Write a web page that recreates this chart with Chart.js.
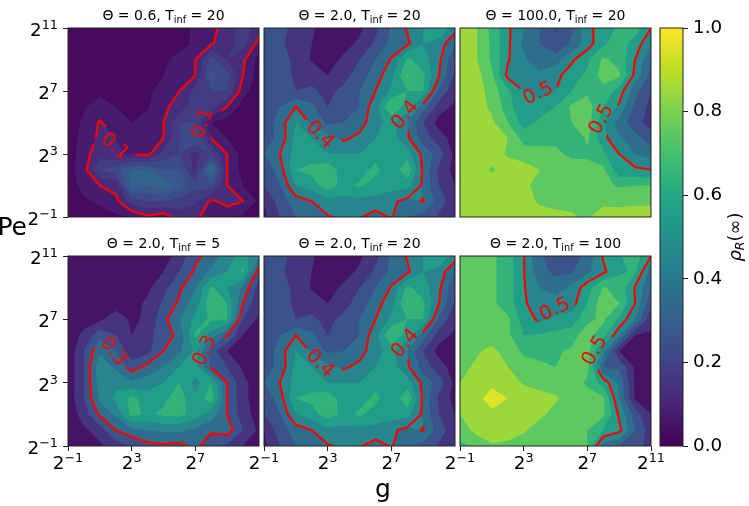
<!DOCTYPE html>
<html>
<head>
<meta charset="utf-8">
<style>
  html, body { margin: 0; padding: 0; background: #fff; }
  #wrap { position: relative; width: 749px; height: 506px; overflow: hidden; }
  canvas { position: absolute; left: 0; top: 0; }
</style>
<script src="https://cdn.jsdelivr.net/npm/chart.js@4"></script>
</head>
<body>
<div id="wrap"></div>
<script>
const exponents = [-1, 0, 1, 2, 3, 4, 5, 6, 7, 8, 9, 10, 11];
const xTicksShort = [-1, 3, 7];
const xTicksFull = [-1, 3, 7, 11];
const yTicks = [-1, 3, 7, 11];
const colorbarTicks = [0, 0.2, 0.4, 0.6, 0.8, 1];
const levelsFine = [0, 0.05, 0.1, 0.15, 0.2, 0.25, 0.3, 0.35, 0.4, 0.45];
const levelsCoarse = [0, 0.1, 0.2, 0.3, 0.4, 0.5, 0.6, 0.7, 0.8, 0.9, 1];
const viridis = ['#440154', '#482475', '#414487', '#355f8d', '#2a788e', '#21918c', '#22a884', '#44bf70', '#7ad151', '#bddf26', '#fde725'];

// rows run from Pe = 2^11 (top) down to Pe = 2^-1, columns from g = 2^-1 to 2^11
const rhoTheta06 = [
  [.02,.02,.02,.02,.02,.02,.02,.03,.06,.08,.13,.17,.13],
  [.02,.02,.02,.02,.02,.02,.02,.03,.06,.095,.13,.17,.08],
  [.02,.02,.02,.02,.02,.02,.04,.07,.1,.22,.15,.11,.03],
  [.02,.02,.02,.02,.02,.02,.05,.09,.1,.26,.22,.1,.03],
  [.02,.02,.04,.02,.03,.04,.07,.1,.17,.2,.2,.07,.02],
  [.03,.045,.07,.05,.03,.045,.09,.12,.18,.17,.1,.03,.02],
  [.02,.06,.105,.07,.05,.07,.1,.2,.2,.05,.03,.02,.02],
  [.02,.07,.11,.1,.08,.08,.1,.2,.25,.1,.05,.02,.02],
  [.02,.08,.13,.105,.095,.085,.17,.2,.13,.2,.1,.03,.02],
  [.03,.08,.2,.22,.3,.3,.25,.25,.13,.37,.1,.03,.02],
  [.02,.07,.1,.12,.33,.3,.33,.28,.22,.22,.1,.05,.03],
  [.02,.04,.06,.085,.17,.2,.2,.18,.16,.09,.12,.1,.04],
  [.02,.02,.03,.04,.06,.09,.07,.12,.12,.05,.06,.04,.02]
];
const rhoTheta2 = [
  [.25,.22,.18,.11,.06,.06,.08,.17,.31,.41,.5,.58,.45],
  [.27,.22,.15,.1,.05,.06,.12,.22,.33,.38,.5,.46,.3],
  [.3,.25,.17,.09,.06,.12,.2,.3,.41,.62,.55,.42,.22],
  [.3,.28,.17,.16,.1,.16,.25,.35,.47,.705,.62,.4,.18],
  [.22,.22,.2,.22,.17,.23,.3,.4,.52,.6,.6,.28,.13],
  [.25,.3,.4,.32,.2,.25,.3,.47,.7,.55,.35,.15,.08],
  [.22,.35,.5,.38,.28,.3,.35,.47,.53,.4,.2,.06,.05],
  [.25,.33,.53,.5,.43,.38,.43,.5,.55,.42,.25,.15,.05],
  [.3,.4,.55,.55,.5,.5,.5,.56,.52,.55,.37,.25,.07],
  [.22,.35,.6,.63,.67,.55,.55,.63,.52,.68,.38,.18,.06],
  [.2,.3,.5,.55,.66,.56,.62,.55,.55,.53,.38,.2,.1],
  [.1,.25,.35,.4,.47,.47,.47,.47,.42,.37,.405,.25,.14],
  [.08,.2,.3,.36,.39,.42,.41,.35,.41,.3,.27,.18,.1]
];
const rhoTheta100 = [
  [.87,.81,.67,.52,.4,.3,.19,.28,.47,.55,.62,.65,.5],
  [.87,.81,.68,.52,.38,.3,.22,.32,.45,.58,.66,.55,.42],
  [.87,.81,.68,.51,.42,.32,.35,.48,.58,.72,.66,.5,.3],
  [.87,.84,.72,.47,.42,.44,.47,.55,.62,.74,.72,.47,.27],
  [.87,.85,.76,.62,.5,.46,.5,.6,.68,.67,.56,.33,.2],
  [.87,.85,.78,.65,.5,.55,.6,.72,.75,.6,.48,.28,.17],
  [.87,.86,.82,.7,.56,.62,.67,.7,.75,.52,.35,.25,.15],
  [.87,.87,.86,.8,.66,.66,.68,.6,.72,.53,.42,.33,.25],
  [.87,.87,.87,.78,.75,.74,.72,.68,.68,.62,.5,.4,.35],
  [.87,.87,.78,.87,.85,.8,.78,.75,.74,.72,.53,.52,.5],
  [.87,.87,.87,.86,.82,.77,.77,.77,.76,.72,.69,.7,.7],
  [.87,.87,.87,.87,.83,.79,.78,.78,.78,.78,.77,.78,.78],
  [.87,.87,.87,.86,.85,.83,.82,.81,.79,.84,.85,.85,.85]
];
const rhoTinf5 = [
  [.03,.03,.03,.03,.03,.03,.05,.15,.27,.35,.45,.55,.4],
  [.03,.03,.03,.03,.03,.05,.1,.2,.32,.42,.5,.62,.25],
  [.03,.03,.03,.03,.05,.08,.17,.28,.4,.62,.5,.38,.15],
  [.03,.03,.03,.04,.06,.12,.22,.32,.45,.67,.6,.3,.12],
  [.03,.05,.08,.17,.08,.12,.27,.4,.53,.62,.6,.2,.08],
  [.03,.13,.27,.2,.1,.17,.25,.33,.62,.45,.3,.1,.04],
  [.03,.2,.38,.3,.13,.17,.3,.38,.52,.25,.1,.05,.03],
  [.03,.2,.47,.38,.25,.33,.4,.5,.55,.28,.2,.08,.03],
  [.03,.2,.45,.48,.42,.45,.5,.6,.47,.6,.3,.13,.04],
  [.04,.2,.42,.52,.63,.55,.58,.65,.52,.66,.3,.13,.04],
  [.03,.15,.32,.42,.63,.58,.62,.63,.55,.45,.3,.15,.05],
  [.03,.08,.15,.3,.37,.4,.42,.42,.38,.32,.35,.2,.08],
  [.02,.04,.08,.15,.2,.27,.28,.27,.33,.22,.18,.1,.05]
];
const rhoTinf100 = [
  [.75,.75,.72,.65,.505,.31,.26,.25,.33,.51,.59,.65,.5],
  [.75,.75,.72,.65,.505,.33,.28,.29,.38,.48,.58,.62,.35],
  [.75,.75,.72,.65,.51,.4,.35,.42,.56,.71,.66,.49,.3],
  [.75,.75,.72,.65,.52,.42,.45,.46,.6,.77,.7,.5,.22],
  [.75,.75,.73,.72,.55,.48,.52,.53,.68,.72,.58,.4,.13],
  [.77,.77,.76,.72,.6,.61,.63,.67,.74,.64,.42,.1,.09],
  [.77,.79,.82,.77,.68,.67,.69,.71,.75,.45,.1,.07,.06],
  [.78,.81,.85,.8,.74,.72,.7,.72,.74,.3,.28,.08,.05],
  [.8,.85,.88,.85,.79,.77,.76,.76,.68,.56,.38,.08,.05],
  [.8,.87,.94,.9,.86,.83,.81,.77,.75,.72,.4,.09,.07],
  [.8,.86,.88,.87,.85,.82,.77,.75,.74,.72,.48,.25,.1],
  [.74,.83,.85,.84,.81,.76,.76,.76,.7,.6,.53,.3,.15],
  [.68,.72,.79,.78,.76,.75,.75,.74,.7,.35,.3,.25,.15]
];

const frames = [
  { title: ['0.6', '20'], rho: rhoTheta06, levels: levelsFine, line: 0.1, text: '0.1', box: [68, 28, 259, 217], labels: [[1.95, 3.46, 42], [7.5, 4.94, -70]], xTicks: null, yTicks: yTicks },
  { title: ['2.0', '20'], rho: rhoTheta2, levels: levelsCoarse, line: 0.4, text: '0.4', box: [264, 28, 455, 217], labels: [[2.5, 4.2, 45], [7.88, 5.46, -50]], xTicks: null, yTicks: null },
  { title: ['100.0', '20'], rho: rhoTheta100, levels: levelsCoarse, line: 0.5, text: '0.5', box: [460, 28, 651, 217], labels: [[3.92, 6.83, -25], [7.9, 5.2, -62]], xTicks: null, yTicks: null },
  { title: ['2.0', '5'], rho: rhoTinf5, levels: levelsCoarse, line: 0.3, text: '0.3', box: [68, 256, 259, 446], labels: [[1.85, 4.96, 52], [7.6, 5.02, -65]], xTicks: xTicksShort, yTicks: yTicks },
  { title: ['2.0', '20'], rho: rhoTheta2, levels: levelsCoarse, line: 0.4, text: '0.4', box: [264, 256, 455, 446], labels: [[2.5, 4.2, 45], [7.88, 5.46, -50]], xTicks: xTicksShort, yTicks: null },
  { title: ['2.0', '100'], rho: rhoTinf100, levels: levelsCoarse, line: 0.5, text: '0.5', box: [460, 256, 651, 446], labels: [[4.97, 7.6, -25], [7.48, 5.02, -60]], xTicks: xTicksFull, yTicks: null }
];

const FONT = '"DejaVu Sans"';
const W = 749, H = 506;

function viridisAt(t) {
  const p = Math.min(Math.max(t, 0), 1) * (viridis.length - 1);
  const i = Math.min(Math.floor(p), viridis.length - 2);
  const f = p - i;
  const a = parseInt(viridis[i].slice(1), 16), b = parseInt(viridis[i + 1].slice(1), 16);
  const mix = s => Math.round(((a >> s) & 255) * (1 - f) + ((b >> s) & 255) * f);
  return `rgb(${mix(16)},${mix(8)},${mix(0)})`;
}

// text made of runs, so that sub and superscripts sit on their own baseline
function drawRuns(ctx, runs, x, y, align) {
  let total = 0;
  runs.forEach(r => {
    ctx.font = `${r.italic ? 'italic ' : ''}${r.size}px ${FONT}`;
    r.w = ctx.measureText(r.t).width;
    total += r.w;
  });
  let cx = align === 'center' ? x - total / 2 : align === 'right' ? x - total : x;
  ctx.textAlign = 'left';
  ctx.textBaseline = 'alphabetic';
  ctx.fillStyle = '#000';
  runs.forEach(r => {
    ctx.font = `${r.italic ? 'italic ' : ''}${r.size}px ${FONT}`;
    ctx.fillText(r.t, cx, y + (r.dy || 0));
    cx += r.w;
  });
}

function powerRuns(e) {
  return [{ t: '2', size: 18.3 }, { t: String(e).replace('-', '\u2212'), size: 12.8, dy: -7 }];
}

// polygon of one grid cell, cut to the part where v >= level
function clipCell(cell, level) {
  const out = [];
  for (let k = 0; k < cell.length; k++) {
    const a = cell[k], b = cell[(k + 1) % cell.length];
    if (a.v >= level) out.push(a);
    if ((a.v >= level) !== (b.v >= level)) {
      const f = (level - a.v) / (b.v - a.v);
      out.push({ x: a.x + (b.x - a.x) * f, y: a.y + (b.y - a.y) * f, v: level });
    }
  }
  return out;
}

function cellsOf(chart, rho) {
  const xs = exponents.map(e => chart.scales.x.getPixelForValue(e));
  const ys = exponents.map(e => chart.scales.y.getPixelForValue(e));
  const n = exponents.length - 1, cells = [];
  for (let j = 0; j < n; j++) {
    for (let i = 0; i < n; i++) {
      cells.push([
        { x: xs[i], y: ys[j], v: rho[n - j][i] },
        { x: xs[i + 1], y: ys[j], v: rho[n - j][i + 1] },
        { x: xs[i + 1], y: ys[j + 1], v: rho[n - j - 1][i + 1] },
        { x: xs[i], y: ys[j + 1], v: rho[n - j - 1][i] }
      ]);
    }
  }
  return cells;
}

const contourPlugin = {
  id: 'contour',
  beforeDatasetsDraw(chart) {
    const f = chart.options.plugins.contour.frame;
    if (!f) return;
    const ctx = chart.ctx, area = chart.chartArea;
    const cells = cellsOf(chart, f.rho);
    ctx.save();
    ctx.beginPath();
    ctx.rect(area.left, area.top, area.right - area.left, area.bottom - area.top);
    ctx.clip();
    // bands, low to high, each one painted over the one below
    f.levels.slice(0, -1).forEach((lo, k) => {
      ctx.fillStyle = viridisAt((lo + f.levels[k + 1]) / 2);
      ctx.beginPath();
      cells.forEach(c => {
        const p = clipCell(c, lo);
        if (p.length < 3) return;
        ctx.moveTo(p[0].x, p[0].y);
        for (let m = 1; m < p.length; m++) ctx.lineTo(p[m].x, p[m].y);
        ctx.closePath();
      });
      ctx.fill();
    });
    // red line, with a gap cut out where each label sits
    const marks = f.labels.map(l => ({
      x: chart.scales.x.getPixelForValue(l[0]),
      y: chart.scales.y.getPixelForValue(l[1]),
      a: l[2] * Math.PI / 180
    }));
    ctx.beginPath();
    ctx.rect(0, 0, W, H);
    marks.forEach(m => {
      const c = Math.cos(m.a), s = Math.sin(m.a), hw = 20, hh = 12;
      ctx.moveTo(m.x - hw * c + hh * s, m.y - hw * s - hh * c);
      ctx.lineTo(m.x + hw * c + hh * s, m.y + hw * s - hh * c);
      ctx.lineTo(m.x + hw * c - hh * s, m.y + hw * s + hh * c);
      ctx.lineTo(m.x - hw * c - hh * s, m.y - hw * s + hh * c);
      ctx.closePath();
    });
    ctx.save();
    ctx.clip('evenodd');
    ctx.strokeStyle = '#ff0000';
    ctx.lineWidth = 2.2;
    ctx.lineJoin = 'round';
    ctx.lineCap = 'round';
    ctx.beginPath();
    cells.forEach(c => {
      const hits = [];
      for (let k = 0; k < 4; k++) {
        const a = c[k], b = c[(k + 1) % 4];
        if ((a.v >= f.line) !== (b.v >= f.line)) {
          const t = (f.line - a.v) / (b.v - a.v);
          hits.push({ x: a.x + (b.x - a.x) * t, y: a.y + (b.y - a.y) * t });
        }
      }
      for (let k = 0; k + 1 < hits.length; k += 2) {
        ctx.moveTo(hits[k].x, hits[k].y);
        ctx.lineTo(hits[k + 1].x, hits[k + 1].y);
      }
    });
    ctx.stroke();
    ctx.restore();
    marks.forEach(m => {
      ctx.save();
      ctx.translate(m.x, m.y);
      ctx.rotate(m.a);
      ctx.font = `19.5px ${FONT}`;
      ctx.fillStyle = '#ff0000';
      ctx.textAlign = 'center';
      ctx.textBaseline = 'middle';
      ctx.fillText(f.text, 0, 0);
      ctx.restore();
    });
    ctx.restore();
  },
  afterDraw(chart) {
    const f = chart.options.plugins.contour.frame;
    if (!f) return;
    const ctx = chart.ctx, area = chart.chartArea;
    ctx.save();
    ctx.strokeStyle = '#222';
    ctx.lineWidth = 1;
    ctx.strokeRect(area.left, area.top, area.right - area.left, area.bottom - area.top);
    drawRuns(ctx, [
      { t: `\u0398 = ${f.title[0]}, T`, size: 14 },
      { t: 'inf', size: 9.8, dy: 3 },
      { t: ` = ${f.title[1]}`, size: 14 }
    ], (area.left + area.right) / 2, area.top - 8, 'center');
    if (f.xTicks) f.xTicks.forEach(e => {
      drawRuns(ctx, powerRuns(e), chart.scales.x.getPixelForValue(e), area.bottom + 23, 'center');
    });
    if (f.yTicks) f.yTicks.forEach(e => {
      drawRuns(ctx, powerRuns(e), area.left - 10, chart.scales.y.getPixelForValue(e) + 8, 'right');
    });
    ctx.restore();
  }
};

const colorbarPlugin = {
  id: 'colorbarFill',
  beforeDatasetsDraw(chart) {
    const ctx = chart.ctx, a = chart.chartArea, y = chart.scales.y;
    const g = ctx.createLinearGradient(0, y.getPixelForValue(0), 0, y.getPixelForValue(1));
    viridis.forEach((c, i) => g.addColorStop(i / (viridis.length - 1), c));
    ctx.fillStyle = g;
    ctx.fillRect(a.left, a.top, a.right - a.left, a.bottom - a.top);
  },
  afterDraw(chart) {
    const ctx = chart.ctx, a = chart.chartArea;
    ctx.save();
    ctx.strokeStyle = '#222';
    ctx.lineWidth = 1;
    ctx.strokeRect(a.left, a.top, a.right - a.left, a.bottom - a.top);
    ctx.translate(741, (a.top + a.bottom) / 2);
    ctx.rotate(-Math.PI / 2);
    drawRuns(ctx, [
      { t: '\u03c1', size: 18, italic: true },
      { t: 'R', size: 12.6, dy: 3, italic: true },
      { t: '(\u221e)', size: 18 }
    ], 0, 0, 'center');
    ctx.restore();
    drawRuns(ctx, [{ t: 'Pe', size: 25 }], 27, 235, 'right');
    drawRuns(ctx, [{ t: 'g', size: 25 }], 383, 497, 'center');
  }
};

function addCanvas() {
  const c = document.createElement('canvas');
  c.width = W;
  c.height = H;
  document.getElementById('wrap').appendChild(c);
  return c;
}

frames.forEach(f => {
  const box = f.box;
  new Chart(addCanvas(), {
    type: 'scatter',
    data: {
      datasets: [{
        data: f.rho.flatMap((row, r) => row.map((v, i) => ({ x: exponents[i], y: exponents[exponents.length - 1 - r], v }))),
        pointRadius: 0
      }]
    },
    options: {
      responsive: false,
      animation: false,
      // an axis that is shown takes the whole margin on its side, otherwise padding does
      layout: { padding: { left: f.yTicks ? 0 : box[0], top: box[1], right: W - box[2], bottom: f.xTicks ? 0 : H - box[3] } },
      plugins: { legend: { display: false }, tooltip: { enabled: false }, contour: { frame: f } },
      scales: {
        x: {
          type: 'linear', min: -1, max: 11,
          display: !!f.xTicks,
          afterBuildTicks: s => { s.ticks = (f.xTicks || []).map(value => ({ value })); },
          afterFit: s => { s.height = f.xTicks ? H - box[3] : 0; },
          ticks: { display: false },
          border: { display: false },
          grid: { drawOnChartArea: false, tickLength: 5, color: '#222', lineWidth: 1 }
        },
        y: {
          type: 'linear', min: -1, max: 11,
          display: !!f.yTicks,
          afterBuildTicks: s => { s.ticks = (f.yTicks || []).map(value => ({ value })); },
          afterFit: s => { s.width = f.yTicks ? box[0] : 0; },
          ticks: { display: false },
          border: { display: false },
          grid: { drawOnChartArea: false, tickLength: 5, color: '#222', lineWidth: 1 }
        }
      }
    },
    plugins: [contourPlugin]
  });
});

new Chart(addCanvas(), {
  type: 'scatter',
  data: { datasets: [{ data: colorbarTicks.map(v => ({ x: 0, y: v })), pointRadius: 0 }] },
  options: {
    responsive: false,
    animation: false,
    layout: { padding: { left: 660, top: 28, right: 0, bottom: H - 446 } },
    plugins: { legend: { display: false }, tooltip: { enabled: false } },
    scales: {
      x: { type: 'linear', display: false, min: 0, max: 1, afterFit: s => { s.height = 0; } },
      y: {
        type: 'linear', position: 'right', min: 0, max: 1,
        afterBuildTicks: s => { s.ticks = colorbarTicks.map(value => ({ value })); },
        afterFit: s => { s.width = W - 683; },
        ticks: { color: '#000', padding: 5, font: { family: 'DejaVu Sans', size: 18.3 }, callback: v => v.toFixed(1) },
        border: { display: false },
        grid: { drawOnChartArea: false, tickLength: 5, color: '#222', lineWidth: 1 }
      }
    }
  },
  plugins: [colorbarPlugin]
});
</script>
</body>
</html>
